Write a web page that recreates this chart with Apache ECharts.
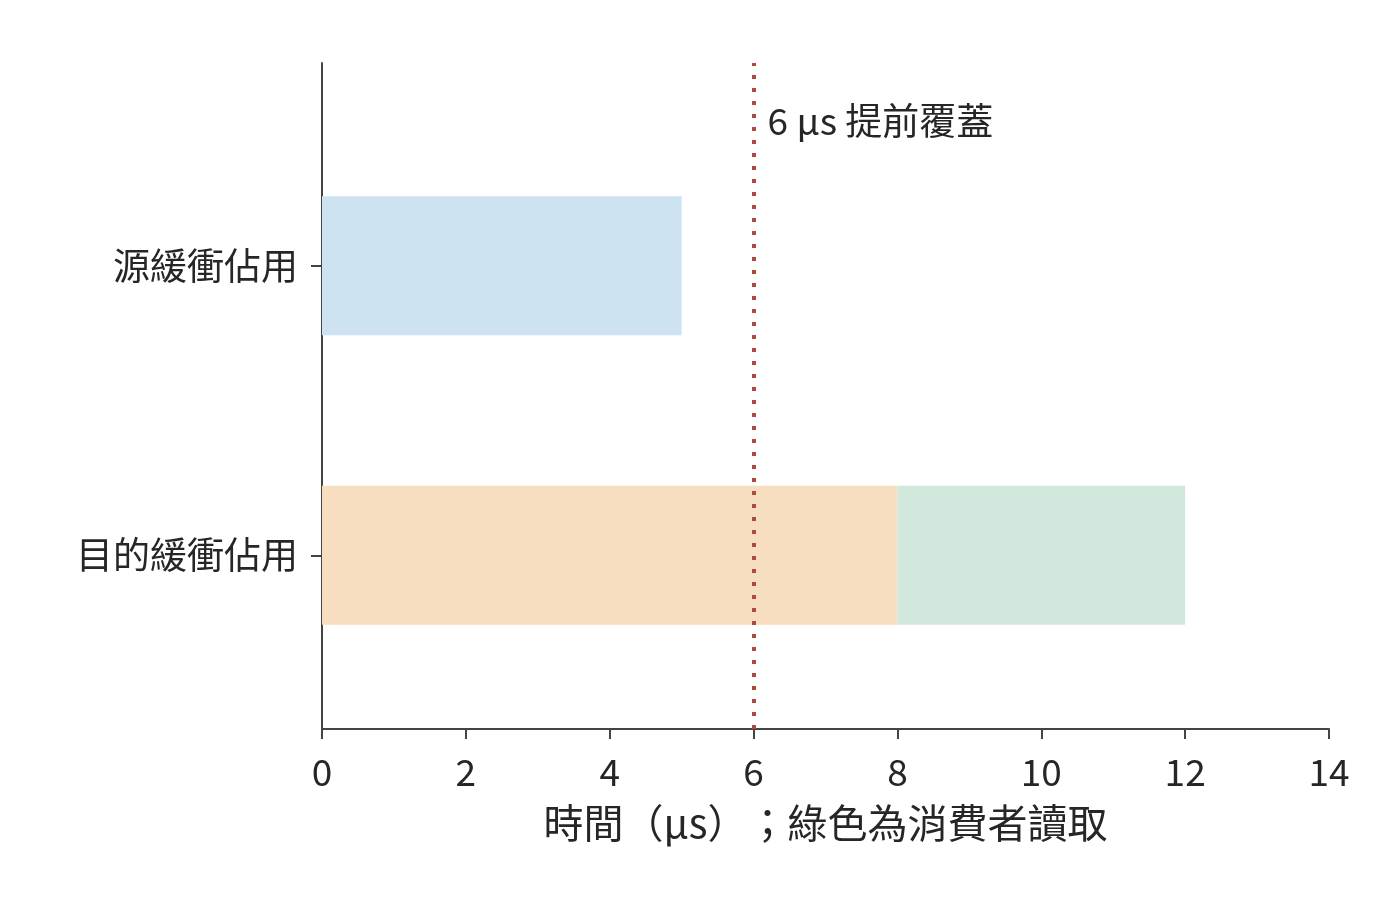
<!DOCTYPE html>
<html>
<head>
<meta charset="utf-8">
<script src="https://cdn.jsdelivr.net/npm/echarts@6/dist/echarts.min.js"></script>
<style>html,body{margin:0;padding:0;background:#fff;}#c{width:1400px;height:912px;}</style>
</head>
<body>
<div id="c"></div>
<script>
const categories = ['目的緩衝佔用', '源緩衝佔用'];
const catPositions = [0, 1];
// segments: [category index, start, end, colour index]
const segStart = [0, 0, 8];
const segEnd = [5, 8, 12];
const segCat = [1, 0, 0];
const segColorIdx = [0, 1, 2];
const colors = ['#cde3f2', '#f8dec1', '#d2e8dc'];
const xTicks = [0, 2, 4, 6, 8, 10, 12, 14];
const markX = 6;
const markLabel = '6 µs 提前覆蓋';
const markLabelY = 1.5;
const xName = '時間（µs）；綠色為消費者讀取';
const barHeight = 0.48;

const font = '"Noto Sans CJK TC", "Noto Sans CJK SC", "Noto Sans", sans-serif';
const textColor = '#262626';
const axisColor = '#444';

const segData = segStart.map((s, i) => [segCat[i], s, segEnd[i], segColorIdx[i]]);

const chart = echarts.init(document.getElementById('c'), null, {renderer: 'canvas'});
chart.setOption({
  backgroundColor: '#fff',
  animation: false,
  grid: {left: 322, right: 71, top: 63, bottom: 183},
  xAxis: {
    type: 'value', min: 0, max: 14, interval: 2,
    splitLine: {show: false},
    axisLine: {show: true, onZero: false, lineStyle: {color: axisColor, width: 2}},
    axisTick: {show: true, length: 10, lineStyle: {color: axisColor, width: 2}},
    axisLabel: {fontSize: 37, color: textColor, fontFamily: font, margin: 24},
    name: xName, nameLocation: 'middle', nameGap: 74,
    nameTextStyle: {fontSize: 40, color: textColor, fontFamily: font}
  },
  yAxis: {
    type: 'value', min: -0.6, max: 1.7,
    splitLine: {show: false},
    axisLine: {show: true, onZero: false, lineStyle: {color: axisColor, width: 2}},
    axisTick: {show: true, length: 11, customValues: catPositions, lineStyle: {color: axisColor, width: 2}},
    axisLabel: {
      customValues: catPositions,
      fontSize: 37, color: textColor, fontFamily: font, margin: 24,
      formatter: v => categories[Math.round(v)]
    }
  },
  series: [
    {
      type: 'custom',
      encode: {x: [1, 2], y: 0},
      data: segData,
      z: 1,
      silent: true,
      renderItem: function (params, api) {
        const c = api.value(0);
        const p0 = api.coord([api.value(1), c + barHeight / 2]);
        const p1 = api.coord([api.value(2), c - barHeight / 2]);
        return {
          type: 'rect',
          shape: {x: p0[0], y: p0[1], width: p1[0] - p0[0], height: p1[1] - p0[1]},
          style: {fill: colors[api.value(3)]}
        };
      },
      markLine: {
        silent: true, symbol: 'none',
        label: {show: false},
        lineStyle: {color: '#ad4a40', width: 4, type: [4, 9], opacity: 1},
        data: [{xAxis: markX}]
      }
    },
    {
      type: 'custom',
      data: [[markX, markLabelY]],
      z: 3,
      silent: true,
      renderItem: function (params, api) {
        const p = api.coord([api.value(0), api.value(1)]);
        return {
          type: 'text',
          x: p[0] + 14, y: p[1],
          style: {
            text: markLabel, fill: textColor, font: '37px ' + font,
            textAlign: 'left', textVerticalAlign: 'middle'
          }
        };
      }
    }
  ]
});
</script>
</body>
</html>
